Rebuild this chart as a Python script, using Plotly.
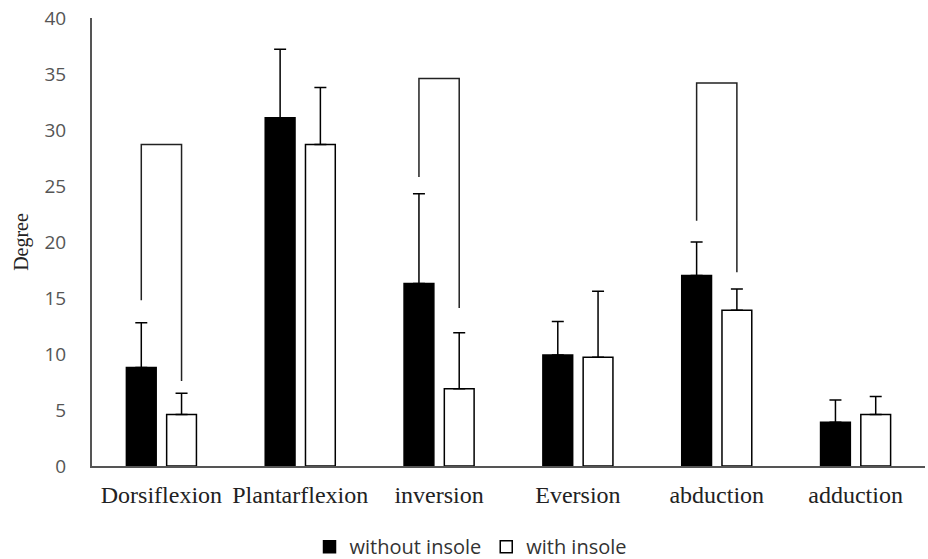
import plotly.graph_objects as go

categories = ["Dorsiflexion", "Plantarflexion", "inversion", "Eversion", "abduction", "adduction"]
without_insole = [8.8, 31.1, 16.3, 9.9, 17.0, 3.9]
without_err = [4.0, 6.1, 8.0, 3.0, 3.0, 2.0]
with_insole = [4.6, 28.7, 6.9, 9.7, 13.9, 4.6]
with_err = [1.9, 5.1, 5.0, 5.9, 1.9, 1.6]

# significance brackets: category index, top, left-leg bottom, right-leg bottom
bracket_cats = [0, 2, 4]
bracket_top = [28.7, 34.6, 34.2]
bracket_left_bottom = [14.8, 25.8, 21.9]
bracket_right_bottom = [7.6, 14.1, 17.3]

series_names = ["without insole", "with insole"]

BARGAP = 0.42
BARGROUPGAP = 0.26
slot = (1 - BARGAP) / 2
off_left = -slot / 2
off_right = slot / 2

xs = list(range(len(categories)))

fig = go.Figure()
fig.add_trace(go.Bar(
    x=xs, y=without_insole, name=series_names[0],
    marker=dict(color="black", line=dict(color="black", width=1.5)),
    error_y=dict(type="data", symmetric=False, array=without_err,
                 arrayminus=[0] * len(without_err), color="black", thickness=1.5, width=6),
))
fig.add_trace(go.Bar(
    x=xs, y=with_insole, name=series_names[1],
    marker=dict(color="white", line=dict(color="black", width=1.5)),
    error_y=dict(type="data", symmetric=False, array=with_err,
                 arrayminus=[0] * len(with_err), color="black", thickness=1.5, width=6),
))

for c, top, lb, rb in zip(bracket_cats, bracket_top, bracket_left_bottom, bracket_right_bottom):
    fig.add_trace(go.Scatter(
        x=[c + off_left, c + off_left, c + off_right, c + off_right],
        y=[lb, top, top, rb],
        mode="lines", line=dict(color="#222222", width=1.5),
        showlegend=False, hoverinfo="skip",
    ))

fig.update_layout(
    width=928, height=559,
    margin=dict(l=92, r=3, t=18, b=93, autoexpand=False),
    paper_bgcolor="white", plot_bgcolor="white",
    barmode="group", bargap=BARGAP, bargroupgap=BARGROUPGAP,
    showlegend=True,
    legend=dict(orientation="h", x=0.455, xanchor="center", y=-0.18, yanchor="middle",
                font=dict(family="Open Sans, Liberation Sans, sans-serif", size=20, color="#333333"),
                traceorder="normal", itemwidth=30),
    font=dict(family="Liberation Serif, serif"),
)
fig.update_xaxes(
    range=[-0.5, len(categories) - 0.5],
    tickmode="array", tickvals=xs, ticktext=categories,
    showline=True, linecolor="#555555", linewidth=2,
    showgrid=False, zeroline=False, ticks="",
    tickfont=dict(family="Liberation Serif, serif", size=24, color="#222222"),
    ticklabelstandoff=6, automargin=False, ticklabeloverflow="allow",
)
fig.update_yaxes(
    range=[0, 40], dtick=5,
    showline=True, linecolor="#555555", linewidth=2,
    showgrid=False, zeroline=False, ticks="",
    tickfont=dict(family="Open Sans, Liberation Sans, sans-serif", size=19, color="#555555"),
    ticklabelstandoff=20, automargin=False, ticklabeloverflow="allow",
    title=dict(text="Degree", font=dict(family="Liberation Serif, serif", size=20, color="#222222"),
               standoff=10),
)

fig.write_html("out.html",
               config={"displayModeBar": False},
               post_script="document.body.style.margin='0';document.body.style.overflow='hidden';")
